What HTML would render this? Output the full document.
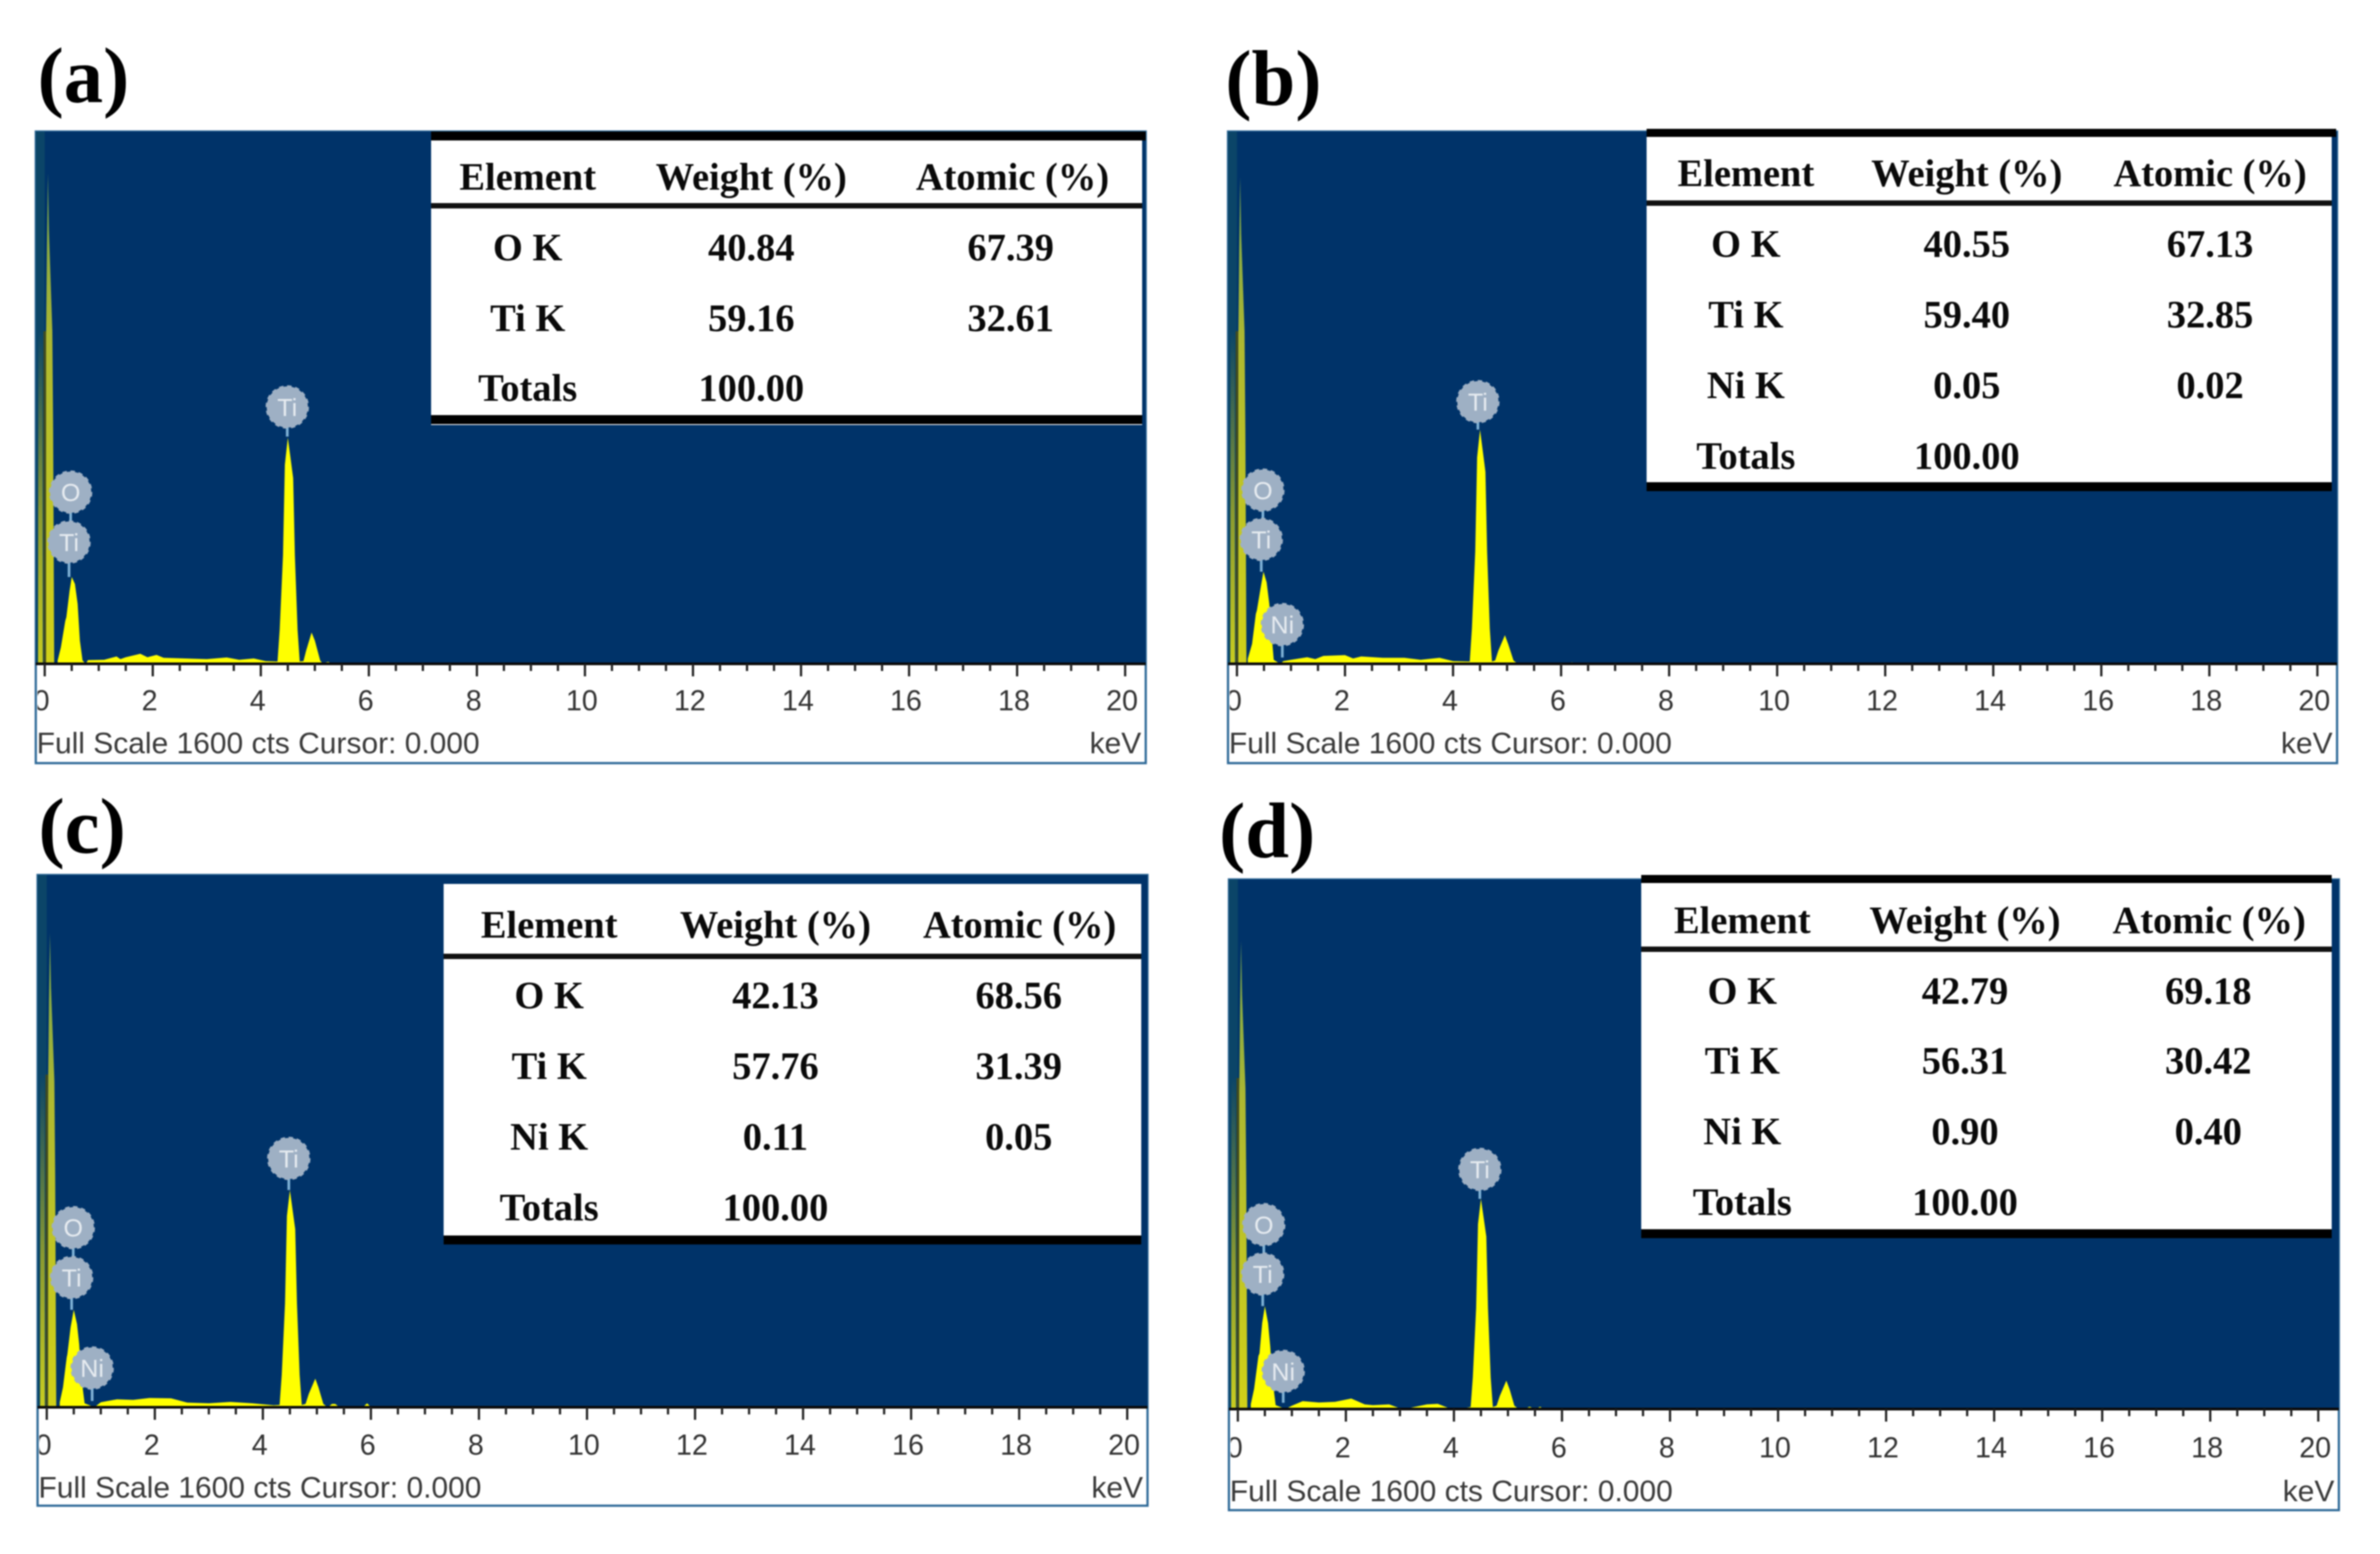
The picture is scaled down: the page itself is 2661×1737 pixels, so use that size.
<!DOCTYPE html>
<html lang="en">
<head>
<meta charset="utf-8">
<title>EDS spectra of Ti-O samples</title>
<style>
html,body{margin:0;padding:0;background:#fff;}
body{width:2661px;height:1737px;overflow:hidden;}
#figure{display:block;filter:blur(0.7px);}
.cell{font-family:"Liberation Serif",serif;font-weight:700;font-size:43px;fill:#0a0a0a;text-anchor:middle;}
.title{font-family:"Liberation Serif",serif;font-weight:700;font-size:88px;fill:#000;}
.tick-label{font-family:"Liberation Sans",sans-serif;font-size:32px;fill:#333;text-anchor:middle;}
.footer{font-family:"Liberation Sans",sans-serif;font-size:33.5px;fill:#3a3a3a;}
.badge-text{font-family:"Liberation Sans",sans-serif;font-size:28px;fill:#e6ebf0;text-anchor:middle;}
</style>
</head>
<body>
<svg id="figure" xmlns="http://www.w3.org/2000/svg" width="2661" height="1737" viewBox="0 0 2661 1737">
  <defs>
    <linearGradient id="strip-fill" x1="0" y1="0" x2="0" y2="1">
      <stop offset="0" stop-color="#0b4568"/>
      <stop offset="0.55" stop-color="#8a9a30"/>
      <stop offset="1" stop-color="#c8cc20"/>
    </linearGradient>
    <linearGradient id="peak-fill" x1="0" y1="0" x2="0" y2="1">
      <stop offset="0" stop-color="#6fa050"/>
      <stop offset="0.35" stop-color="#aeb830"/>
      <stop offset="1" stop-color="#d0d018"/>
    </linearGradient>
  </defs>
  <rect x="0" y="0" width="2661" height="1737" fill="#ffffff"/>
  <g id="plot-a"></g>
  <g id="plot-b"></g>
  <g id="plot-c"></g>
  <g id="plot-d"></g>

  <text class="title" x="42" y="114">(a)</text>
  <text class="title" x="1370" y="117">(b)</text>
  <text class="title" x="43" y="953">(c)</text>
  <text class="title" x="1363" y="958">(d)</text>

  <g>
    <rect x="482" y="147" width="795" height="328" fill="#fff"/>
    <rect x="482" y="147" width="799" height="10" fill="#000"/>
    <rect x="482" y="227" width="795" height="6" fill="#111"/>
    <rect x="482" y="464" width="795" height="10" fill="#000"/>
    <text class="cell" x="590" y="212">Element</text>
    <text class="cell" x="840" y="212">Weight (%)</text>
    <text class="cell" x="1132" y="212">Atomic (%)</text>
    <text class="cell" x="590" y="291">O K</text>
    <text class="cell" x="840" y="291">40.84</text>
    <text class="cell" x="1130" y="291">67.39</text>
    <text class="cell" x="590" y="370">Ti K</text>
    <text class="cell" x="840" y="370">59.16</text>
    <text class="cell" x="1130" y="370">32.61</text>
    <text class="cell" x="590" y="448">Totals</text>
    <text class="cell" x="840" y="448">100.00</text>
  </g>

  <g>
    <rect x="1841" y="144" width="766" height="405" fill="#fff"/>
    <rect x="1841" y="144" width="771" height="9" fill="#000"/>
    <rect x="1841" y="224" width="766" height="6" fill="#111"/>
    <rect x="1841" y="539" width="766" height="10" fill="#000"/>
    <text class="cell" x="1952" y="208">Element</text>
    <text class="cell" x="2199" y="208">Weight (%)</text>
    <text class="cell" x="2471" y="208">Atomic (%)</text>
    <text class="cell" x="1952" y="287">O K</text>
    <text class="cell" x="2199" y="287">40.55</text>
    <text class="cell" x="2471" y="287">67.13</text>
    <text class="cell" x="1952" y="366">Ti K</text>
    <text class="cell" x="2199" y="366">59.40</text>
    <text class="cell" x="2471" y="366">32.85</text>
    <text class="cell" x="1952" y="445">Ni K</text>
    <text class="cell" x="2199" y="445">0.05</text>
    <text class="cell" x="2471" y="445">0.02</text>
    <text class="cell" x="1952" y="524">Totals</text>
    <text class="cell" x="2199" y="524">100.00</text>
  </g>

  <g>
    <rect x="496" y="988" width="780" height="402" fill="#fff"/>
    <rect x="496" y="1066" width="780" height="6" fill="#111"/>
    <rect x="496" y="1381" width="780" height="10" fill="#000"/>
    <text class="cell" x="614" y="1048">Element</text>
    <text class="cell" x="867" y="1048">Weight (%)</text>
    <text class="cell" x="1140" y="1048">Atomic (%)</text>
    <text class="cell" x="614" y="1127">O K</text>
    <text class="cell" x="867" y="1127">42.13</text>
    <text class="cell" x="1139" y="1127">68.56</text>
    <text class="cell" x="614" y="1206">Ti K</text>
    <text class="cell" x="867" y="1206">57.76</text>
    <text class="cell" x="1139" y="1206">31.39</text>
    <text class="cell" x="614" y="1285">Ni K</text>
    <text class="cell" x="867" y="1285">0.11</text>
    <text class="cell" x="1139" y="1285">0.05</text>
    <text class="cell" x="614" y="1364">Totals</text>
    <text class="cell" x="867" y="1364">100.00</text>
  </g>

  <g>
    <rect x="1835" y="978" width="772" height="406" fill="#fff"/>
    <rect x="1835" y="978" width="772" height="9" fill="#000"/>
    <rect x="1835" y="1058" width="772" height="6" fill="#111"/>
    <rect x="1835" y="1374" width="772" height="10" fill="#000"/>
    <text class="cell" x="1948" y="1043">Element</text>
    <text class="cell" x="2197" y="1043">Weight (%)</text>
    <text class="cell" x="2470" y="1043">Atomic (%)</text>
    <text class="cell" x="1948" y="1122">O K</text>
    <text class="cell" x="2197" y="1122">42.79</text>
    <text class="cell" x="2469" y="1122">69.18</text>
    <text class="cell" x="1948" y="1200">Ti K</text>
    <text class="cell" x="2197" y="1200">56.31</text>
    <text class="cell" x="2469" y="1200">30.42</text>
    <text class="cell" x="1948" y="1279">Ni K</text>
    <text class="cell" x="2197" y="1279">0.90</text>
    <text class="cell" x="2469" y="1279">0.40</text>
    <text class="cell" x="1948" y="1358">Totals</text>
    <text class="cell" x="2197" y="1358">100.00</text>
  </g>
</svg>

<script>
// Axis values shared by all panels
var tickValues = [0, 2, 4, 6, 8, 10, 12, 14, 16, 18, 20];
var tickLabels = ['0', '2', '4', '6', '8', '10', '12', '14', '16', '18', '20'];
var fullScaleCounts = 1600;
var footerText = 'Full Scale 1600 cts Cursor: 0.000';
var unitText = 'keV';

// Panel (a) spectrum: energy (keV) and counts
var energiesA = [-0.125, -0.12, -0.04, -0.035, 0.01, 0.02, 0.04, 0.06, 0.08, 0.14, 0.155, 0.175, 0.24, 0.3, 0.38, 0.4, 0.46, 0.5, 0.56, 0.61, 0.65, 0.7, 0.76, 0.8, 1.1, 1.33, 1.4, 1.5, 1.77, 1.9, 2.07, 2.2, 2.6, 3.0, 3.37, 3.6, 3.87, 4.09, 4.28, 4.31, 4.35, 4.41, 4.445, 4.5, 4.6, 4.63, 4.68, 4.72, 4.79, 4.84, 4.94, 5.0, 5.1, 5.14, 5.25, 5.3, 5.9, 6.4, 6.95, 7.0];
var countsA = [0, 1000, 1000, 0, 0, 900, 1250, 1474, 1300, 1000, 700, 0, 10, 50, 129, 140, 220, 261, 240, 180, 70, 10, 0, 11, 12, 22, 14, 20, 30, 20, 27, 18, 16, 14, 19, 12, 16, 8, 7, 7, 102, 326, 598, 680, 558, 326, 102, 7, 8, 40, 94, 70, 10, 2, 6, 2, 4, 4, 4, 0];
var badgeLabelsA = ['Ti', 'O', 'Ti'];
var badgeEnergiesA = [4.49, 0.48, 0.45];
var badgeCountsA = [772, 516, 366];
var stemEndCountsA = [683, 366, 261];

// Panel (b) spectrum
var energiesB = [-0.125, -0.12, -0.04, -0.035, 0.01, 0.02, 0.04, 0.06, 0.08, 0.14, 0.155, 0.175, 0.2, 0.28, 0.35, 0.37, 0.44, 0.49, 0.55, 0.6, 0.64, 0.68, 0.8, 0.86, 1.0, 1.3, 1.45, 1.6, 2.0, 2.15, 2.3, 2.7, 3.1, 3.4, 3.75, 4.0, 4.25, 4.31, 4.35, 4.41, 4.445, 4.5, 4.6, 4.63, 4.68, 4.72, 4.78, 4.84, 4.96, 5.02, 5.12, 5.2, 6.15, 6.2, 6.25];
var countsB = [0, 1000, 1000, 0, 0, 900, 1240, 1463, 1290, 1000, 700, 0, 15, 60, 150, 161, 230, 277, 245, 180, 90, 12, 0, 8, 12, 20, 14, 24, 26, 16, 22, 18, 18, 12, 18, 8, 7, 7, 106, 338, 620, 704, 577, 338, 106, 7, 10, 40, 86, 60, 10, 0, 0, 5, 0];
var badgeLabelsB = ['Ti', 'O', 'Ti', 'Ni'];
var badgeEnergiesB = [4.46, 0.48, 0.45, 0.84];
var badgeCountsB = [788, 522, 374, 118];
var stemEndCountsB = [704, 374, 277, 19];

// Panel (c) spectrum
var energiesC = [-0.125, -0.12, -0.04, -0.035, 0.01, 0.02, 0.04, 0.06, 0.08, 0.14, 0.155, 0.175, 0.24, 0.3, 0.37, 0.38, 0.44, 0.5, 0.56, 0.6, 0.64, 0.7, 0.88, 1.0, 1.3, 1.6, 1.9, 2.3, 2.6, 3.0, 3.4, 3.8, 4.2, 4.31, 4.35, 4.41, 4.445, 4.5, 4.6, 4.63, 4.68, 4.72, 4.79, 4.85, 4.97, 5.03, 5.12, 5.2, 5.28, 5.34, 5.42, 5.85, 5.93, 6.0];
var countsC = [0, 1000, 1000, 0, 0, 880, 1220, 1425, 1260, 980, 700, 0, 15, 60, 150, 159, 240, 293, 250, 190, 90, 12, 0, 15, 24, 22, 28, 27, 14, 12, 16, 12, 6, 7, 98, 313, 575, 653, 535, 313, 98, 7, 10, 40, 86, 60, 10, 0, 10, 10, 0, 0, 12, 0];
var badgeLabelsC = ['Ti', 'O', 'Ti', 'Ni'];
var badgeEnergiesC = [4.48, 0.49, 0.46, 0.84];
var badgeCountsC = [748, 540, 390, 118];
var stemEndCountsC = [653, 390, 293, 19];

// Panel (d) spectrum
var energiesD = [-0.125, -0.12, -0.04, -0.035, 0.01, 0.02, 0.04, 0.06, 0.08, 0.14, 0.155, 0.175, 0.24, 0.3, 0.38, 0.4, 0.45, 0.5, 0.56, 0.6, 0.64, 0.7, 0.88, 1.0, 1.2, 1.5, 1.8, 2.1, 2.35, 2.5, 2.8, 3.0, 3.2, 3.5, 3.7, 3.9, 4.2, 4.31, 4.35, 4.41, 4.445, 4.5, 4.6, 4.63, 4.68, 4.72, 4.79, 4.85, 4.97, 5.03, 5.12, 5.2, 5.3, 5.4, 5.5, 5.6, 5.65];
var countsD = [0, 1000, 1000, 0, 0, 870, 1210, 1414, 1250, 970, 690, 0, 15, 60, 160, 168, 260, 311, 260, 190, 90, 12, 0, 10, 24, 20, 22, 32, 14, 12, 14, 2, 4, 14, 16, 3, 3, 6, 95, 305, 559, 635, 521, 305, 95, 6, 10, 40, 86, 60, 10, 0, 0, 7, 0, 7, 0];
var badgeLabelsD = ['Ti', 'O', 'Ti', 'Ni'];
var badgeEnergiesD = [4.48, 0.48, 0.46, 0.84];
var badgeCountsD = [724, 557, 408, 114];
var stemEndCountsD = [635, 408, 311, 19];

// Frame geometry of each panel
var frameA = {left: 40, right: 1281, top: 147, base: 742, bottom: 853, zero: 50, perKev: 60.4, labelY: 794, footerY: 842};
var frameB = {left: 1373, right: 2613, top: 147, base: 742, bottom: 853, zero: 1383, perKev: 60.4, labelY: 794, footerY: 842};
var frameC = {left: 42, right: 1283, top: 978, base: 1573, bottom: 1683, zero: 52.3, perKev: 60.4, labelY: 1626, footerY: 1674};
var frameD = {left: 1374, right: 2615, top: 983, base: 1575, bottom: 1688, zero: 1384, perKev: 60.4, labelY: 1629, footerY: 1678};

var SVG_NS = 'http://www.w3.org/2000/svg';

function makeEl(tag, parent, props) {
  var el = document.createElementNS(SVG_NS, tag);
  for (var k in props) { el.setAttribute(k, props[k]); }
  parent.appendChild(el);
  return el;
}

function drawPanel(id, frame, energies, counts, badgeLabels, badgeEnergies, badgeCounts, stemEnds) {
  var group = document.getElementById('plot-' + id);
  function xScale(e) { return frame.zero + e * frame.perKev; }
  function yScale(c) { return frame.base - c * (frame.base - frame.top) / fullScaleCounts; }

  function areaPath(low, high) {
    var d = '';
    var lastX = 0;
    for (var i = 0; i < energies.length; i++) {
      if (energies[i] < low || energies[i] >= high) { continue; }
      lastX = xScale(energies[i]).toFixed(1);
      d += (d === '' ? 'M' + lastX + ' ' + yScale(0) + ' L' : ' L') + lastX + ' ' + yScale(counts[i]).toFixed(1);
    }
    return d + ' L' + lastX + ' ' + yScale(0) + ' Z';
  }

  var panelBox = makeEl('rect', group, {x: frame.left, y: frame.top, width: frame.right - frame.left, height: frame.bottom - frame.top, fill: '#ffffff', stroke: '#2f6a98', 'stroke-width': 2.5});
  
  

  var plotArea = makeEl('rect', group, {x: frame.left, y: frame.top, width: frame.right - frame.left, height: frame.base - frame.top, fill: '#003369'});
  
  

  var band = makeEl('rect', group, {x: frame.left, y: frame.top, width: frame.zero - frame.left, height: frame.base - frame.top, fill: '#0b4568'});
  
  

  var strip = makeEl('path', group, {d: areaPath(-1, 0), fill: 'url(#strip-fill)'});
  
  

  var noisePeak = makeEl('path', group, {d: areaPath(0, 0.2), fill: 'url(#peak-fill)'});
  
  

  var spectrum = makeEl('path', group, {d: areaPath(0.2, 30), fill: '#ffff00'});
  
  

  var zeroLine = makeEl('line', group, {x1: xScale(0), x2: xScale(0), y1: yScale(1000), y2: frame.base, stroke: '#3f4a22', 'stroke-width': 3});
  
  

  var baseLine = makeEl('line', group, {x1: frame.left, x2: frame.right, y1: frame.base, y2: frame.base, stroke: '#0a0a0a', 'stroke-width': 3});
  
  

  for (var t = 0; t <= 40; t++) {
    var value = t * 0.5;
    var isMajor = t % 4 === 0;
    var tick = makeEl('line', group, {x1: xScale(value), x2: xScale(value), y1: frame.base, y2: frame.base + (isMajor ? 14 : 8), stroke: '#222', 'stroke-width': 2.5});
    
    
  }

  var clip = makeEl('clipPath', group, {id: 'clip-' + id});
  makeEl('rect', clip, {x: frame.left + 2, y: frame.base, width: frame.right - frame.left - 4, height: frame.bottom - frame.base});
  var labels = makeEl('g', group, {'clip-path': 'url(#clip-' + id + ')'});
  
  
  for (var n = 0; n < tickValues.length; n++) {
    var label = makeEl('text', labels, {x: xScale(tickValues[n]) - 3.5, y: frame.labelY, 'class': 'tick-label'});
    label.textContent = tickLabels[n];
    
    
  }

  var footer = makeEl('text', group, {x: frame.left + 1, y: frame.footerY, 'class': 'footer'});
  footer.textContent = footerText;
  
  

  var unit = makeEl('text', group, {x: frame.right - 5, y: frame.footerY, 'class': 'footer', 'text-anchor': 'end'});
  unit.textContent = unitText;
  
  

  for (var b = 0; b < badgeLabels.length; b++) {
    var cx = xScale(badgeEnergies[b]);
    var cy = yScale(badgeCounts[b]);
    var stem = makeEl('line', group, {x1: cx, x2: cx, y1: cy, y2: yScale(stemEnds[b]), stroke: '#7fb2d6', 'stroke-width': 3});
    
    

    var disc = makeEl('circle', group, {cx: cx, cy: cy, r: 23, fill: '#9eb0c4', stroke: '#9eb0c4', 'stroke-width': 2.5, 'stroke-dasharray': '5 4'});
    
    

    var text = makeEl('text', group, {x: cx, y: cy + 10, 'class': 'badge-text'});
    text.textContent = badgeLabels[b];
    
    
  }
}

drawPanel('a', frameA, energiesA, countsA, badgeLabelsA, badgeEnergiesA, badgeCountsA, stemEndCountsA);
drawPanel('b', frameB, energiesB, countsB, badgeLabelsB, badgeEnergiesB, badgeCountsB, stemEndCountsB);
drawPanel('c', frameC, energiesC, countsC, badgeLabelsC, badgeEnergiesC, badgeCountsC, stemEndCountsC);
drawPanel('d', frameD, energiesD, countsD, badgeLabelsD, badgeEnergiesD, badgeCountsD, stemEndCountsD);
</script>
</body>
</html>
